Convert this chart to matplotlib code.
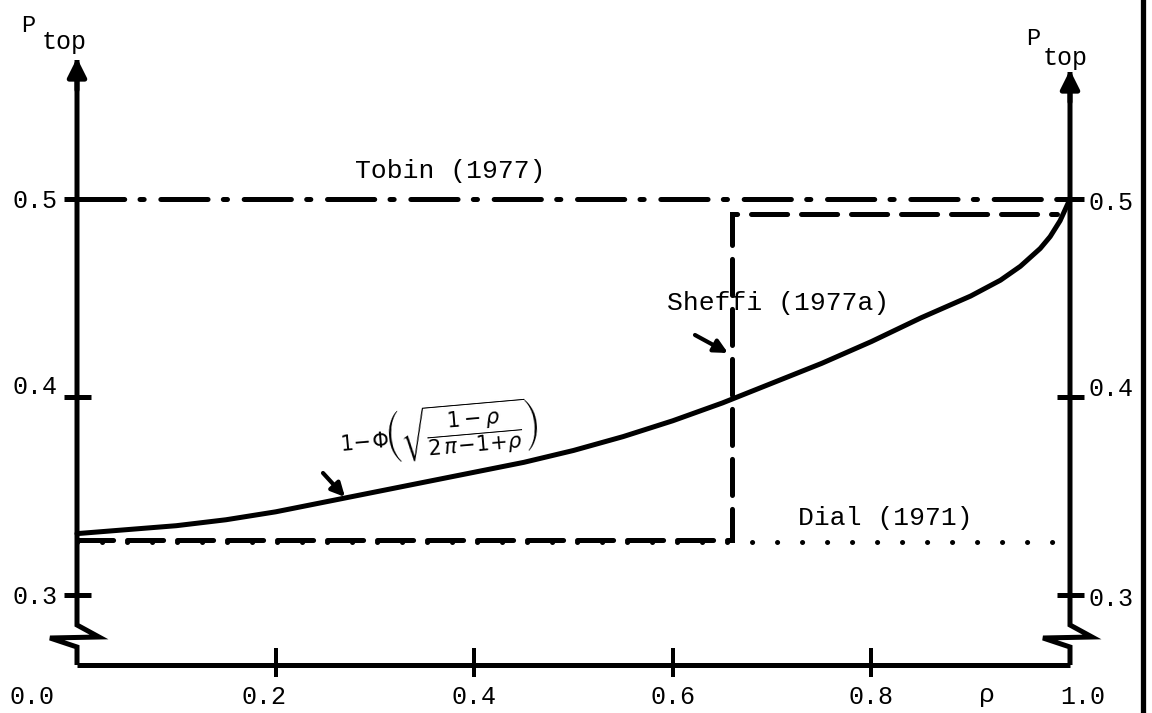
import numpy as np
import matplotlib
matplotlib.use("Agg")
import matplotlib.pyplot as plt

plt.rcParams['lines.scale_dashes'] = False
plt.rcParams['mathtext.fontset'] = 'dejavusans'

# values
rho_curve = [0.00, 0.05, 0.10, 0.15, 0.20, 0.25, 0.30, 0.35, 0.40, 0.45, 0.50,
             0.55, 0.60, 0.65, 0.70, 0.75, 0.80, 0.85, 0.90, 0.93, 0.95, 0.97,
             0.98, 0.99, 1.00]
p_curve = [0.331, 0.333, 0.335, 0.338, 0.342, 0.347, 0.352, 0.357, 0.362, 0.367,
           0.373, 0.380, 0.388, 0.397, 0.407, 0.417, 0.428, 0.440, 0.451, 0.459,
           0.466, 0.475, 0.481, 0.489, 0.500]

tobin_rho = [0.0, 1.0]
tobin_p = [0.5, 0.5]

sheffi_rho = [0.0, 0.66, 0.66, 0.987]
sheffi_p = [0.328, 0.328, 0.4925, 0.4925]

dial_rho = [0.0, 0.995]
dial_p = [0.327, 0.327]

x_ticks = [0.2, 0.4, 0.6, 0.8]
y_ticks = [0.3, 0.4, 0.5]
x_ticklabels = ['0.0', '0.2', '0.4', '0.6', '0.8', '1.0']
x_label_pos = [-0.045, 0.188, 0.40, 0.60, 0.80, 1.013]

# pixel mapping of the drawing: rho 0 -> 77 px, 993 px per unit; P 0.3 -> 595 px, 1980 px per unit
W, H = 1152, 713
X0, XS = 77.0, 993.0
Y0, YS = 595.0, 1980.0

fig = plt.figure(figsize=(W / 100, H / 100), dpi=100)
ax = fig.add_axes([0, 0, 1, 1])
ax.set_xlim(-X0 / XS, (W - X0) / XS)
ax.set_ylim(0.3 - (H - Y0) / YS, 0.3 + Y0 / YS)
ax.axis('off')

lw = 3.6
k = 'black'
mono = 'Liberation Mono'

def dx(px):
    return px / XS

def dy(px):
    return px / YS

y_bot = 0.3 - dy(70)

# axes with break marks
for xa, top in [(0.0, 0.3 + dy(535)), (1.0, 0.3 + dy(523))]:
    brk_x = [xa, xa, xa + dx(22), xa - dx(27), xa, xa]
    brk_y = [top, 0.3 - dy(30), 0.3 - dy(42), 0.3 - dy(43), 0.3 - dy(52), y_bot]
    ax.plot(brk_x, brk_y, color=k, lw=lw, solid_joinstyle='miter', solid_capstyle='butt')
    ax.annotate('', xy=(xa, top + dy(2)), xytext=(xa, top - dy(30)),
                arrowprops=dict(arrowstyle='-|>', color=k, lw=lw,
                                mutation_scale=28, shrinkA=0, shrinkB=0))
    for yt in y_ticks:
        ax.plot([xa - dx(13), xa + dx(14)], [yt, yt], color=k, lw=lw, solid_capstyle='butt')

ax.plot([0.0, 1.0], [y_bot, y_bot], color=k, lw=lw, solid_capstyle='butt')
for xt in x_ticks:
    ax.plot([xt, xt], [y_bot - dy(12), y_bot + dy(17)], color=k, lw=lw * 0.8, solid_capstyle='butt')

# series
ax.plot(rho_curve, p_curve, color=k, lw=lw, solid_capstyle='round', solid_joinstyle='round')
ax.plot(tobin_rho, tobin_p, color=k, lw=lw, linestyle=(0, (34, 11, 3, 12)),
        dash_capstyle='round')
ax.plot(sheffi_rho, sheffi_p, color=k, lw=lw, linestyle=(0, (26, 10)),
        dash_capstyle='round', dash_joinstyle='miter')
ax.plot(dial_rho, dial_p, color=k, lw=lw, linestyle=(0, (0.1, 17.9)),
        dash_capstyle='round')

# tick labels
fs = 18
for v in y_ticks:
    ax.text(-dx(20), v - dy(2) if v != 0.4 else v + dy(10), f'{v:.1f}', ha='right', va='center',
            fontsize=fs, family=mono)
    ax.text(1.0 + dx(18), v - dy(4) if v != 0.4 else v + dy(8), f'{v:.1f}', ha='left', va='center',
            fontsize=fs, family=mono)
for pos, lab in zip(x_label_pos, x_ticklabels):
    ax.text(pos, y_bot - dy(32), lab, ha='center', va='center', fontsize=fs, family=mono)
ax.text(0.916, y_bot - dy(30), 'ρ', ha='center', va='center', fontsize=19, family=mono)

# axis titles
ax.text(-dx(56), 0.3 + dy(569), 'P', ha='left', va='center', fontsize=17, family=mono)
ax.text(-dx(35), 0.3 + dy(553), 'top', ha='left', va='center', fontsize=18, family=mono)
ax.text(1.0 - dx(44), 0.3 + dy(557), 'P', ha='left', va='center', fontsize=17, family=mono)
ax.text(1.0 - dx(27), 0.3 + dy(537), 'top', ha='left', va='center', fontsize=18, family=mono)

# annotations
ax.text(dx(278), 0.5 + dy(28), 'Tobin (1977)', ha='left', va='center', fontsize=19, family=mono)
ax.text(dx(590), 0.3 + dy(292), 'Sheffi (1977a)', ha='left', va='center', fontsize=19, family=mono)
ax.text(dx(721), 0.3 + dy(77), 'Dial (1971)', ha='left', va='center', fontsize=19, family=mono)
ax.text(dx(260), 0.3 + dy(162),
        r'$1\!-\!\Phi\!\left(\sqrt{\dfrac{1-\rho}{2\,\pi\!-\!1\!+\!\rho}}\right)$',
        ha='left', va='center', fontsize=15, rotation=5)
ax.annotate('', xy=(dx(268), 0.3 + dy(98)), xytext=(dx(246), 0.3 + dy(122)),
            arrowprops=dict(arrowstyle='-|>', color=k, lw=3, mutation_scale=20,
                            shrinkA=0, shrinkB=0))
ax.annotate('', xy=(dx(651), 0.3 + dy(242)), xytext=(dx(618), 0.3 + dy(260)),
            arrowprops=dict(arrowstyle='-|>', color=k, lw=3, mutation_scale=20,
                            shrinkA=0, shrinkB=0))

# dark scan edge on the right
fig.add_artist(plt.Line2D([1143 / W, 1143 / W], [0, 1], color=k, lw=3.8, transform=fig.transFigure))

fig.savefig('out.png', dpi=100)
